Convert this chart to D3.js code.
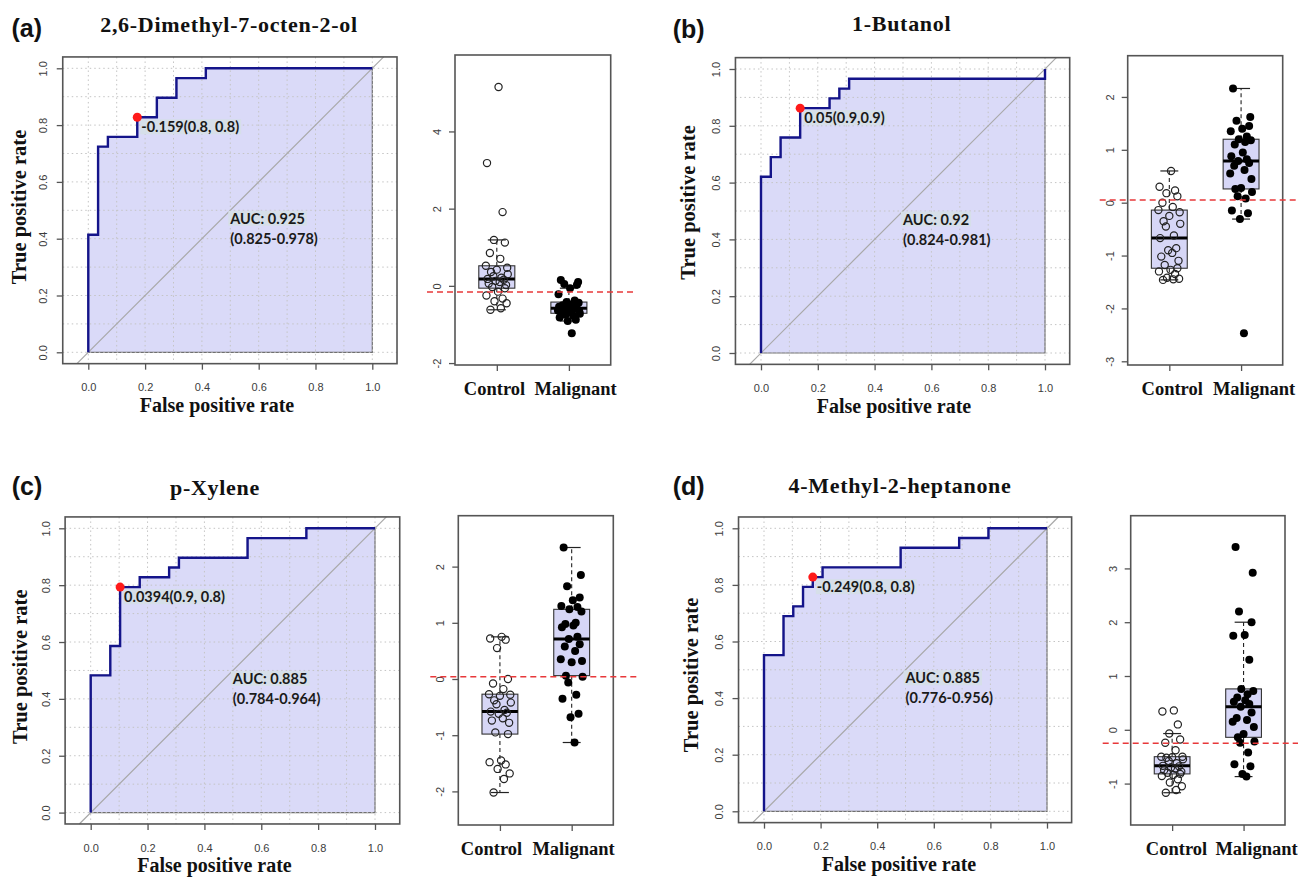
<!DOCTYPE html>
<html><head><meta charset="utf-8">
<script src="https://cdn.jsdelivr.net/npm/d3@7"></script>
<style>body{margin:0;background:#fff;} svg{display:block;}</style>
</head><body>
<svg id="chart" width="1298" height="879"></svg>
<script>
// ================= DATA =================
const panelLetters = ["(a)", "(b)", "(c)", "(d)"];
const compoundNames = ["2,6-Dimethyl-7-octen-2-ol", "1-Butanol", "p-Xylene", "4-Methyl-2-heptanone"];
const groupNames = ["Control", "Malignant"];
const nPerGroup = 29;
const rocTicks = [0, 0.2, 0.4, 0.6, 0.8, 1.0];

// ROC step points, counts out of 29: [false positives, true positives]
const rocA = [[0,0],[0,12],[1,12],[1,21],[2,21],[2,22],[5,22],[5,24],[7,24],[7,26],[9,26],[9,28],[12,28],[12,29],[29,29]];
const rocB = [[0,0],[0,18],[1,18],[1,20],[2,20],[2,22],[4,22],[4,25],[7,25],[7,26],[8,26],[8,27],[9,27],[9,28],[29,28],[29,29]];
const rocC = [[0,0],[0,14],[2,14],[2,17],[3,17],[3,23],[5,23],[5,24],[8,24],[8,25],[9,25],[9,26],[16,26],[16,28],[22,28],[22,29],[29,29]];
const rocD = [[0,0],[0,16],[2,16],[2,20],[3,20],[3,21],[4,21],[4,23],[5,23],[5,24],[6,24],[6,25],[14,25],[14,27],[20,27],[20,28],[23,28],[23,29],[29,29]];
// best threshold points (counts out of 29)
const bestPoints = [[5,24],[4,25],[3,23],[5,24]];
const thresholdLabels = ["-0.159(0.8, 0.8)", "0.05(0.9,0.9)", "0.0394(0.9, 0.8)", "-0.249(0.8, 0.8)"];
const cutoffs = [-0.159, 0.05, 0.0394, -0.249];
const aucLabels = ["AUC: 0.925", "AUC: 0.92", "AUC: 0.885", "AUC: 0.885"];
const aucCI = ["(0.825-0.978)", "(0.824-0.981)", "(0.784-0.964)", "(0.776-0.956)"];

// Box plot values (29 per group)
const controlA = [-0.62,-0.58,-0.45,-0.40,-0.33,-0.25,-0.15,-0.06,-0.03,0.02,0.06,0.10,0.13,0.16,0.18,0.21,0.25,0.30,0.36,0.42,0.47,0.52,0.70,0.85,1.12,1.19,1.91,3.18,5.15];
const malignantA = [-1.23,-0.91,-0.88,-0.82,-0.78,-0.75,-0.72,-0.71,-0.69,-0.66,-0.64,-0.62,-0.60,-0.59,-0.58,-0.56,-0.54,-0.52,-0.50,-0.47,-0.44,-0.42,-0.38,-0.22,-0.06,0.03,0.05,0.10,0.15];
const controlB = [-1.46,-1.45,-1.44,-1.42,-1.35,-1.30,-1.27,-1.24,-1.18,-1.10,-1.02,-0.95,-0.90,-0.86,-0.67,-0.62,-0.45,-0.40,-0.35,-0.25,-0.18,-0.14,-0.08,0.00,0.12,0.18,0.23,0.30,0.60];
const malignantB = [-2.47,-0.31,-0.20,-0.15,0.08,0.12,0.20,0.26,0.28,0.45,0.55,0.62,0.70,0.75,0.79,0.82,0.88,0.95,1.10,1.15,1.18,1.20,1.25,1.35,1.40,1.45,1.55,1.62,2.16];
const controlC = [-2.02,-1.78,-1.68,-1.60,-1.52,-1.48,-1.45,-0.98,-0.95,-0.78,-0.74,-0.70,-0.62,-0.60,-0.58,-0.55,-0.45,-0.42,-0.38,-0.30,-0.28,-0.27,-0.18,-0.08,0.00,0.55,0.70,0.72,0.75];
const malignantC = [-1.13,-0.68,-0.62,-0.35,-0.28,-0.06,0.04,0.06,0.30,0.32,0.35,0.50,0.58,0.62,0.71,0.75,0.92,0.95,0.98,1.00,1.20,1.24,1.28,1.30,1.40,1.45,1.65,1.85,2.34];
const controlD = [-1.17,-1.12,-1.05,-0.98,-0.92,-0.86,-0.84,-0.82,-0.80,-0.78,-0.75,-0.72,-0.70,-0.68,-0.67,-0.62,-0.58,-0.55,-0.52,-0.51,-0.50,-0.50,-0.38,-0.24,-0.18,-0.07,0.10,0.34,0.36];
const malignantD = [-0.87,-0.82,-0.68,-0.64,-0.42,-0.24,-0.22,-0.14,-0.08,0.05,0.15,0.18,0.22,0.32,0.43,0.48,0.52,0.55,0.60,0.66,0.72,0.76,1.30,1.75,1.76,2.00,2.20,2.92,3.40];

const boxTicksA = [-2, 0, 2, 4];
const boxTicksB = [-3, -2, -1, 0, 1, 2];
const boxTicksC = [-2, -1, 0, 1, 2];
const boxTicksD = [-1, 0, 1, 2, 3];
// visible y-axis limits of each box plot
const boxLimitsA = [-2.05, 5.98];
const boxLimitsB = [-3.07, 2.78];
const boxLimitsC = [-2.598, 2.906];
const boxLimitsD = [-1.77, 3.98];

// fixed horizontal jitter pattern for the strip points (fraction of max jitter)
const jitterPattern = [-0.55,0.35,0.85,-0.2,0.5,-0.9,0.1,0.7,-0.4,0.8,-0.7,0.25,-0.1,0.6,-0.8,0.4,-0.3,0.95,-0.5,0.0,0.9,-0.95,0.3,-0.6,0.7,-0.25,0.5,-0.85,0.15];

// ================= LAYOUT =================
const layouts = [
  {letterX:11.5, letterY:36.5, titleX:229, titleY:31.5, rocX0:88.3, rocY1:68.3, rocSize:284, yTitleX:25, yTitleY:207, xTitleX:217,
   box:{l:455, r:610.7, t:55, b:365}, catLabelX:[494, 575]},
  {letterX:672.7, letterY:38, titleX:901.7, titleY:30.7, rocX0:761, rocY1:69, rocSize:284, yTitleX:694.5, yTitleY:202.5, xTitleX:894,
   box:{l:1127.7, r:1282.7, t:55.7, b:365}, catLabelX:[1171.7, 1253.5]},
  {letterX:11.7, letterY:495, titleX:215, titleY:495, rocX0:90.7, rocY1:528.3, rocSize:284.3, yTitleX:26, yTitleY:666.7, xTitleX:214.5,
   box:{l:458.3, r:613.3, t:515.7, b:825}, catLabelX:[491, 573]},
  {letterX:672.7, letterY:495, titleX:900, titleY:493.3, rocX0:764, rocY1:528.3, rocSize:283, yTitleX:697.6, yTitleY:675, xTitleX:899,
   box:{l:1130.7, r:1285, t:515.7, b:825}, catLabelX:[1176, 1256]}
];

const panels = [
  {roc: rocA, control: controlA, malignant: malignantA, ticks: boxTicksA, lim: boxLimitsA},
  {roc: rocB, control: controlB, malignant: malignantB, ticks: boxTicksB, lim: boxLimitsB},
  {roc: rocC, control: controlC, malignant: malignantC, ticks: boxTicksC, lim: boxLimitsC},
  {roc: rocD, control: controlD, malignant: malignantD, ticks: boxTicksD, lim: boxLimitsD}
];

const SERIF = "'Liberation Serif','Times New Roman',serif";
const SANS = "'Liberation Sans',Arial,sans-serif";
const ANNOT = "Lato,'Open Sans',sans-serif";
const FRAME = "#555";
const TICKTXT = "#3c3c3c";

const svg = d3.select("#chart");
svg.append("rect").attr("width",1298).attr("height",879).attr("fill","#fff");

function tukey(vals) {
  const s = vals.slice().sort(d3.ascending);
  const n = s.length;
  const med = d3.median(s);
  const q1 = d3.median(s.slice(0, Math.ceil(n / 2)));
  const q3 = d3.median(s.slice(Math.floor(n / 2)));
  const iqr = q3 - q1;
  const lo = d3.min(s.filter(v => v >= q1 - 1.5 * iqr));
  const hi = d3.max(s.filter(v => v <= q3 + 1.5 * iqr));
  return {q1, med, q3, lo, hi};
}

function highlight(textSel, fill) {
  const node = textSel.node();
  const bb = node.getBBox();
  const r = document.createElementNS("http://www.w3.org/2000/svg", "rect");
  node.parentNode.insertBefore(r, node);
  d3.select(r).attr("x", bb.x - 1).attr("y", bb.y + 1).attr("width", bb.width + 3).attr("height", bb.height - 2).attr("fill", fill);
}

panels.forEach((p, i) => {
  const L = layouts[i];
  const g = svg.append("g");

  // ---------- panel letter and title ----------
  g.append("text").attr("x", L.letterX).attr("y", L.letterY).text(panelLetters[i])
    .attr("font-family", SANS).attr("font-weight", "bold").attr("font-size", 25).attr("fill", "#111");
  g.append("text").attr("x", L.titleX).attr("y", L.titleY).text(compoundNames[i])
    .attr("text-anchor", "middle").attr("font-family", SERIF).attr("font-weight", "bold")
    .attr("font-size", 22).attr("letter-spacing", 0.7).attr("fill", "#111");

  // ---------- ROC ----------
  const x = d3.scaleLinear().domain([0, 1]).range([L.rocX0, L.rocX0 + L.rocSize]);
  const y = d3.scaleLinear().domain([0, 1]).range([L.rocY1 + L.rocSize, L.rocY1]);
  const fx0 = x(-0.09), fx1 = x(1.087), fy0 = y(1.04), fy1 = y(-0.04);
  const n = nPerGroup;
  const line = d3.line().x(d => x(d[0] / n)).y(d => y(d[1] / n));

  // AUC polygon
  g.append("path").attr("d", line(p.roc.concat([[n, 0]])) + "Z")
    .attr("fill", "#dadaf8").attr("stroke", "#707070").attr("stroke-width", 1.2);

  // grid
  const gridVals = d3.range(0, 11).map(k => k / 10);
  const grid = g.append("g").attr("stroke", "#c4c4c4").attr("stroke-width", 1).attr("stroke-dasharray", "1.5,3");
  gridVals.forEach(v => {
    grid.append("line").attr("x1", x(v)).attr("x2", x(v)).attr("y1", fy0).attr("y2", fy1);
    grid.append("line").attr("y1", y(v)).attr("y2", y(v)).attr("x1", fx0).attr("x2", fx1);
  });

  // diagonal
  g.append("line").attr("x1", x(-0.04)).attr("y1", y(-0.04)).attr("x2", x(1.04)).attr("y2", y(1.04))
    .attr("stroke", "#a8a8a8").attr("stroke-width", 1.2);

  // ROC curve
  g.append("path").attr("d", line(p.roc)).attr("fill", "none")
    .attr("stroke", "#14148a").attr("stroke-width", 2.4).attr("stroke-linejoin", "miter");

  // frame
  g.append("rect").attr("x", fx0).attr("y", fy0).attr("width", fx1 - fx0).attr("height", fy1 - fy0)
    .attr("fill", "none").attr("stroke", FRAME).attr("stroke-width", 1.6);

  // axes
  const xAxis = g.append("g").attr("transform", `translate(0,${fy1})`)
    .call(d3.axisBottom(x).tickValues(rocTicks).tickFormat(d3.format(".1f")).tickSize(6).tickPadding(14));
  const yAxis = g.append("g").attr("transform", `translate(${fx0},0)`)
    .call(d3.axisLeft(y).tickValues(rocTicks).tickFormat(d3.format(".1f")).tickSize(6));
  [xAxis, yAxis].forEach(a => {
    a.select(".domain").remove();
    a.selectAll("line").attr("stroke", FRAME).attr("stroke-width", 1.3);
    a.selectAll("text").attr("font-family", SANS).attr("font-size", 11).attr("fill", TICKTXT);
  });
  yAxis.selectAll("text").attr("transform", "rotate(-90)").attr("x", 0).attr("y", -15.5).attr("dy", 0)
    .attr("text-anchor", "middle");

  // axis titles
  g.append("text").attr("transform", `translate(${L.yTitleX + 0.5},${L.yTitleY}) rotate(-90)`).text("True positive rate")
    .attr("text-anchor", "middle").attr("font-family", SERIF).attr("font-weight", "bold").attr("font-size", 20.5).attr("fill", "#111");
  g.append("text").attr("x", L.xTitleX).attr("y", fy1 + 48.5).text("False positive rate")
    .attr("text-anchor", "middle").attr("font-family", SERIF).attr("font-weight", "bold").attr("font-size", 20).attr("fill", "#111");

  // best threshold
  const bp = bestPoints[i];
  const bx = x(bp[0] / n), by = y(bp[1] / n);
  const thr = g.append("text").attr("x", bx + 4).attr("y", by + 15).text(thresholdLabels[i])
    .attr("font-family", ANNOT).attr("font-weight", "bold").attr("font-size", 14.5).attr("fill", "#1a1a1a");
  highlight(thr, "#d6dfe9");
  g.append("circle").attr("cx", bx).attr("cy", by).attr("r", 4.5).attr("fill", "#ff1a1a");

  // AUC text
  const a1 = g.append("text").attr("x", x(0.5)).attr("y", y(0.47) + 5).text(aucLabels[i])
    .attr("font-family", ANNOT).attr("font-weight", "bold").attr("font-size", 14.5).attr("fill", "#1a1a1a");
  highlight(a1, "#d6dfe9");
  g.append("text").attr("x", x(0.5)).attr("y", y(0.47) + 25).text(aucCI[i])
    .attr("font-family", ANNOT).attr("font-weight", "bold").attr("font-size", 14.5).attr("fill", "#1a1a1a");

  // ---------- Box plot ----------
  const B = L.box;
  const xb = d3.scaleLinear().domain([0.42, 2.58]).range([B.l, B.r]);
  const yb = d3.scaleLinear().domain(p.lim).range([B.b, B.t]);
  const bw = (xb(1.25) - xb(0.75));

  [p.control, p.malignant].forEach((vals, gi) => {
    const cx = xb(gi + 1);
    const st = tukey(vals);
    const bg = g.append("g");
    // whiskers
    bg.append("line").attr("x1", cx).attr("x2", cx).attr("y1", yb(st.q3)).attr("y2", yb(st.hi))
      .attr("stroke", "#222").attr("stroke-width", 1.1).attr("stroke-dasharray", "4,3");
    bg.append("line").attr("x1", cx).attr("x2", cx).attr("y1", yb(st.q1)).attr("y2", yb(st.lo))
      .attr("stroke", "#222").attr("stroke-width", 1.1).attr("stroke-dasharray", "4,3");
    [st.hi, st.lo].forEach(v => bg.append("line").attr("x1", cx - bw / 4).attr("x2", cx + bw / 4)
      .attr("y1", yb(v)).attr("y2", yb(v)).attr("stroke", "#222").attr("stroke-width", 1.2));
    // box
    bg.append("rect").attr("x", cx - bw / 2).attr("width", bw).attr("y", yb(st.q3)).attr("height", yb(st.q1) - yb(st.q3))
      .attr("fill", "#d6d6f6").attr("stroke", "#333").attr("stroke-width", 1.1);
    bg.append("line").attr("x1", cx - bw / 2).attr("x2", cx + bw / 2).attr("y1", yb(st.med)).attr("y2", yb(st.med))
      .attr("stroke", "#000").attr("stroke-width", 3);
    // points
    vals.forEach((v, k) => {
      const j = jitterPattern[(k + gi * 11) % jitterPattern.length] * 0.16;
      const c = bg.append("circle").attr("cx", xb(gi + 1 + j)).attr("cy", yb(v));
      if (gi === 0) c.attr("r", 3.6).attr("fill", "none").attr("stroke", "#222").attr("stroke-width", 1.2);
      else c.attr("r", 4).attr("fill", "#000");
    });
  });

  // frame
  g.append("rect").attr("x", B.l).attr("y", B.t).attr("width", B.r - B.l).attr("height", B.b - B.t)
    .attr("fill", "none").attr("stroke", FRAME).attr("stroke-width", 1.6);

  const byAxis = g.append("g").attr("transform", `translate(${B.l},0)`)
    .call(d3.axisLeft(yb).tickValues(p.ticks).tickFormat(d3.format("d")).tickSize(6));
  const bxAxis = g.append("g").attr("transform", `translate(0,${B.b})`)
    .call(d3.axisBottom(xb).tickValues([1, 2]).tickFormat(d => groupNames[d - 1]).tickSize(6).tickPadding(11));
  [byAxis, bxAxis].forEach(a => {
    a.select(".domain").remove();
    a.selectAll("line").attr("stroke", FRAME).attr("stroke-width", 1.3);
  });
  byAxis.selectAll("text").attr("font-family", SANS).attr("font-size", 11).attr("fill", TICKTXT)
    .attr("transform", "rotate(-90)").attr("x", 0).attr("y", -14).attr("dy", 0).attr("text-anchor", "middle")
    .text(d => d < 0 ? "-" + Math.abs(d) : String(d));
  bxAxis.selectAll("text").attr("font-family", SERIF).attr("font-weight", "bold").attr("font-size", 18.5).attr("fill", "#111")
    .attr("x", d => L.catLabelX[d - 1] - xb(d));

  // cutoff line
  g.append("line").attr("x1", B.l - 28).attr("x2", Math.min(1298, B.r + 26)).attr("y1", yb(cutoffs[i])).attr("y2", yb(cutoffs[i]))
    .attr("stroke", "#e8383a").attr("stroke-width", 1.5).attr("stroke-dasharray", "6,4");
});
</script>
</body></html>
